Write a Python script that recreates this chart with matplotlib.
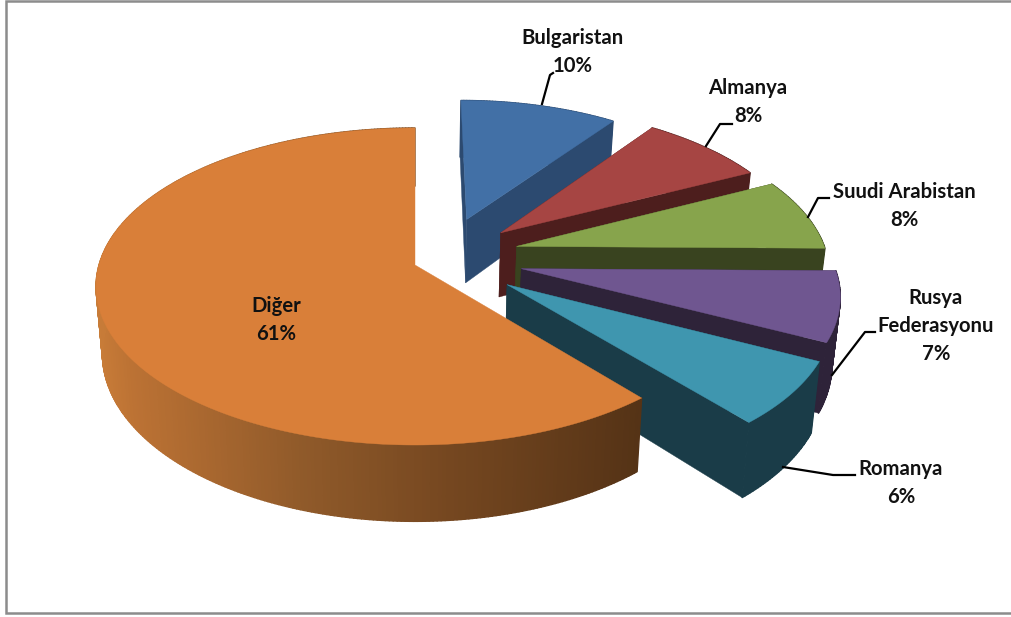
import numpy as np
import matplotlib
matplotlib.use("Agg")
import matplotlib.pyplot as plt
from matplotlib.collections import PolyCollection
from matplotlib.patches import Polygon

# data
categories = ["Bulgaristan", "Almanya", "Suudi Arabistan", "Rusya Federasyonu", "Romanya", "Diğer"]
values = [10.0, 7.7, 7.5, 7.2, 6.49, 61.11]
label_texts = ["Bulgaristan\n10%", "Almanya\n8%", "Suudi Arabistan\n8%", "Rusya\nFederasyonu\n7%", "Romanya\n6%", "Diğer\n61%"]

# styles / layout
top_colors = ["#4270a6", "#a64543", "#87a44c", "#6f5690", "#3f96af", "#d97f39"]
side_colors = ["#2c4a70", "#4d1e1d", "#39431f", "#2e2339", "#1a3c48", None]
explode_x = [0.55, 0.365, 0.335, 0.345, 0.365, 0.0]
explode_y = [0.32, 0.33, 0.55, 0.10, 0.20, 0.0]
radius_scale = [0.93, 0.975, 0.99, 0.99, 1.0, 1.0]
label_xy = [(573, 52), (748, 102), (904, 206), (936, 326), (901, 483), (276, 320)]
leaders = [[(542, 104), (550, 75), (553, 73)],
           [(706, 146), (720, 124), (732, 124)],
           [(808, 217), (818, 198), (829, 198)],
           [(832, 375), (865, 332), (875, 332)],
           [(783, 467), (833, 475), (855, 475)]]
CX, CY, RX, RY, K, DEPTH = 415, 265, 316, 155.6, 0.1356, 66
BOTTOM_SCALE = 0.98

def project(u, v):
    w = 1.0 / (1.0 + K * v)
    return CX + RX * u * w, CY - RY * v * w, w

def lerp_color(x):
    xs = [95, 130, 300, 450, 640]
    rs = [0xc8, 0xbc, 0x90, 0x75, 0x55]
    gs = [0x7c, 0x72, 0x5a, 0x47, 0x33]
    bs = [0x38, 0x34, 0x2a, 0x20, 0x16]
    return (np.interp(x, xs, rs) / 255, np.interp(x, xs, gs) / 255, np.interp(x, xs, bs) / 255)

def low(xv):
    return CX + (xv - CX) * BOTTOM_SCALE

fig = plt.figure(figsize=(10.12, 6.17), dpi=100, facecolor="white")
ax = fig.add_axes([0, 0, 1, 1])
ax.set_xlim(0, 1012)
ax.set_ylim(617, 0)
ax.axis("off")

plt.rcParams["font.family"] = ["Lato", "DejaVu Sans"]

# frame
ax.plot([1012, 6, 6, 1012], [1, 1, 613, 613], color="#8c8c8c", lw=1.8, solid_joinstyle="miter", zorder=1)

total = sum(values)
start = 0.0
for i, val in enumerate(values):
    sweep = 360.0 * val / total
    t0 = np.radians(start)
    t1 = np.radians(start + sweep)
    start += sweep
    mid = (t0 + t1) / 2
    ou = explode_x[i] * np.sin(mid)
    ov = explode_y[i] * np.cos(mid)
    ts = np.linspace(t0, t1, max(8, int((t1 - t0) * 90)))
    u = ou + radius_scale[i] * np.sin(ts)
    v = ov + radius_scale[i] * np.cos(ts)
    x, y, w = project(u, v)
    ax_, ay_, aw_ = project(np.array([ou]), np.array([ov]))
    d = DEPTH * w
    ad = DEPTH * aw_[0]
    z = 10 + i
    # cut faces
    if side_colors[i]:
        for xe, ye, de in ((x[0], y[0], d[0]), (x[-1], y[-1], d[-1])):
            ax.add_patch(Polygon([(ax_[0], ay_[0]), (xe, ye), (low(xe), ye + de), (low(ax_[0]), ay_[0] + ad)],
                                 closed=True, fc=side_colors[i], ec=side_colors[i], lw=0.3, zorder=z))
    # outer wall
    quads = []
    cols = []
    for j in range(len(ts) - 1):
        quads.append([(x[j], y[j]), (x[j + 1], y[j + 1]),
                      (low(x[j + 1]), y[j + 1] + d[j + 1]), (low(x[j]), y[j] + d[j])])
        cols.append(side_colors[i] if side_colors[i] else lerp_color((x[j] + x[j + 1]) / 2))
    ax.add_collection(PolyCollection(quads, facecolors=cols, edgecolors=cols, linewidths=1.0, zorder=z + 0.1))
    # top face
    pts = [(ax_[0], ay_[0])] + list(zip(x, y))
    ax.add_patch(Polygon(pts, closed=True, fc=top_colors[i], ec=top_colors[i], lw=0.3, zorder=z + 0.2))

for seg in leaders:
    xs, ys = zip(*seg)
    ax.plot(xs, ys, color="black", lw=1.6, zorder=30)

for (lx, ly), txt in zip(label_xy, label_texts):
    ax.text(lx, ly, txt, ha="center", va="center", fontsize=14.6, fontweight="bold",
            color="#111111", linespacing=1.5, zorder=40, family=["Lato", "DejaVu Sans"])

fig.savefig("out.png", dpi=100)
